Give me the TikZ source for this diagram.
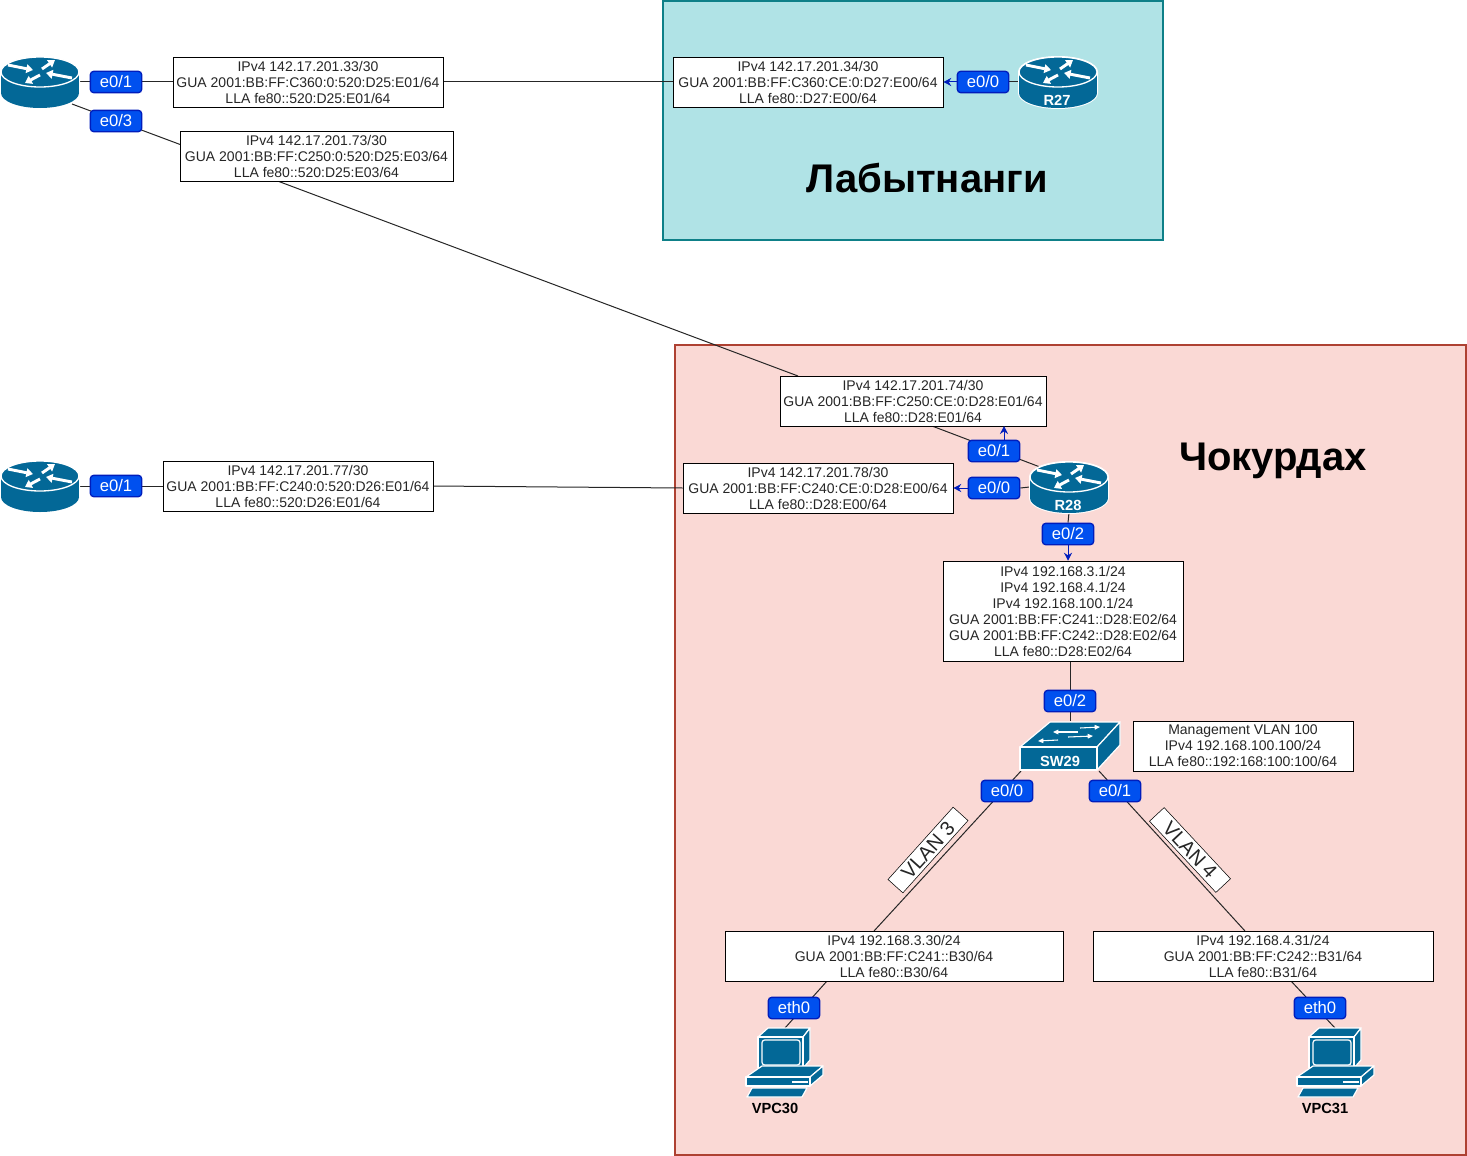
\documentclass[tikz,border=0pt]{standalone}
\usepackage{fontspec}
\setmainfont{Liberation Sans}
\usetikzlibrary{arrows.meta,backgrounds}

\definecolor{ciscoblue}{HTML}{036897}
\definecolor{portfill}{HTML}{0050EF}
\definecolor{portline}{HTML}{001DBC}
\definecolor{tealfill}{HTML}{B0E3E6}
\definecolor{tealline}{HTML}{0E8088}
\definecolor{redfill}{HTML}{FAD9D5}
\definecolor{redline}{HTML}{AE4132}

\tikzset{
  router/.pic={
    \path[draw=white, line width=1.5pt] (0,11) ellipse [x radius=39, y radius=15]
      (-39,-10) -- (-39,11) (39,-10) -- (39,11) (0,-10) ellipse [x radius=39, y radius=15];
    \fill[ciscoblue] (0,11) ellipse [x radius=39, y radius=15];
    \fill[ciscoblue] (-39,-10) rectangle (39,11);
    \path[fill=ciscoblue, draw=white, line width=1pt] (0,-10) ellipse [x radius=39, y radius=15];
    \foreach \xa/\ya/\xb/\yb in {-32/-17/-7/-12, 2/-13/15/-22, 0/-7/-15/1, 32/-4/6/-9}
      \draw[white, line width=2.2pt, -{Triangle[width=6.5pt,length=5pt]}] (\xa,\ya) -- (\xb,\yb);
  },
  switchbox/.pic={
    \path[fill=ciscoblue, draw=white, line width=0.9pt, line join=round] (-50,0) -- (-20,-25) -- (50,-25) -- (27,0) -- cycle;
    \path[fill=ciscoblue, draw=white, line width=0.9pt, line join=round] (27,0) -- (50,-25) -- (50,-2) -- (27,23) -- cycle;
    \path[fill=ciscoblue, draw=white, line width=0.9pt, line join=round] (-50,0) rectangle (27,23);
    \foreach \xa/\ya/\xb/\yb in {10/-19/30/-20, 8/-15/-17/-15, -2/-10/23/-11, -12/-7/-32/-6}
      \draw[white, line width=0.8pt, -{Triangle[width=3.5pt,length=4pt]}] (\xa,\ya) -- (\xb,\yb);
  },
  vpc/.pic={
    \begin{scope}[fill=ciscoblue, draw=white, line width=0.9pt, line join=round]
      \path[fill, draw] (-16,-35) -- (26,-35) -- (19,-26) -- (-26,-26) -- cycle;
      \path[fill, draw] (19,-26) -- (26,-35) -- (26,-3) -- (19,5) -- cycle;
      \path[fill, draw] (-26,-26) rectangle (19,5);
      \path[fill, draw, rounded corners=2pt] (-22,-23) rectangle (16,2);
      \path[fill, draw] (-22,3) -- (39,3) -- (26,14) -- (-38,14) -- cycle;
      \path[fill, draw] (26,14) -- (39,3) -- (39,12) -- (26,23) -- cycle;
      \path[fill, draw] (-38,14) rectangle (26,23);
      \path[fill, draw] (-32,25) -- (23,25) -- (18,34) -- (-37,34) -- cycle;
    \end{scope}
    \draw[white, line width=1pt] (8,19) -- (24,19);
  }
}

\begin{document}
\begin{tikzpicture}[
  x=0.75pt, y=-0.75pt,
  ipbox/.style={draw, fill=white, inner sep=0pt, align=center, minimum width=#1*0.75pt,
    minimum height=37.5pt, text=black!85, font=\fontsize{10.5}{12}\selectfont},
  port/.style={draw=portline, fill=portfill, text=white, rounded corners=2.5pt, line width=1pt,
    inner sep=0pt, minimum width=38.5pt, minimum height=16pt, font=\fontsize{12.5}{12.5}\selectfont},
  icon/.style={inner sep=0pt, minimum width=58.5pt, minimum height=38pt},
  hostname/.style={font=\fontsize{11}{11}\selectfont\bfseries, text=white, inner sep=0pt},
  pcname/.style={font=\fontsize{11}{11}\selectfont\bfseries, inner sep=0pt},
  vlan/.style={draw, fill=white, inner sep=0pt, minimum width=73pt, minimum height=15pt,
    text=black!85, font=\fontsize{15}{15}\selectfont},
  zone/.style={line width=1.5pt},
  title/.style={font=\fontsize{30}{30}\selectfont\bfseries, inner sep=0pt},
  link/.style={line width=0.75pt, draw=black!85},
  tolink/.style={line width=0.75pt, draw=portline, -{Stealth[length=6pt,width=6pt]}}
]
  \useasboundingbox (0,0) rectangle (1467,1156);

  % address boxes
  \node[ipbox=270] (ip33) at (308,82) {IPv4 142.17.201.33/30\\GUA 2001:BB:FF:C360:0:520:D25:E01/64\\LLA fe80::520:D25:E01/64};
  \node[ipbox=270] (ip34) at (808,82) {IPv4 142.17.201.34/30\\GUA 2001:BB:FF:C360:CE:0:D27:E00/64\\LLA fe80::D27:E00/64};
  \node[ipbox=273] (ip73) at (316.5,156) {IPv4 142.17.201.73/30\\GUA 2001:BB:FF:C250:0:520:D25:E03/64\\LLA fe80::520:D25:E03/64};
  \node[ipbox=266] (ip74) at (913,401) {IPv4 142.17.201.74/30\\GUA 2001:BB:FF:C250:CE:0:D28:E01/64\\LLA fe80::D28:E01/64};
  \node[ipbox=270] (ip77) at (298,486) {IPv4 142.17.201.77/30\\GUA 2001:BB:FF:C240:0:520:D26:E01/64\\LLA fe80::520:D26:E01/64};
  \node[ipbox=270] (ip78) at (818,488) {IPv4 142.17.201.78/30\\GUA 2001:BB:FF:C240:CE:0:D28:E00/64\\LLA fe80::D28:E00/64};
  \node[ipbox=240, minimum height=75pt] (ip192) at (1063,611) {IPv4 192.168.3.1/24\\IPv4 192.168.4.1/24\\IPv4 192.168.100.1/24\\GUA 2001:BB:FF:C241::D28:E02/64\\GUA 2001:BB:FF:C242::D28:E02/64\\LLA fe80::D28:E02/64};
  \node[ipbox=220] (mgmt) at (1243,746) {Management VLAN 100\\IPv4 192.168.100.100/24\\LLA fe80::192:168:100:100/64};
  \node[ipbox=338] (ip30) at (894,956) {IPv4 192.168.3.30/24\\GUA 2001:BB:FF:C241::B30/64\\LLA fe80::B30/64};
  \node[ipbox=340] (ip31) at (1263,956) {IPv4 192.168.4.31/24\\GUA 2001:BB:FF:C242::B31/64\\LLA fe80::B31/64};

  % devices
  \node[icon] (ra) at (40,82) {};
  \node[icon] (rb) at (40,486) {};
  \node[icon] (r27) at (1058,82) {};
  \node[icon] (r28) at (1069,487) {};
  \node[icon, minimum width=75pt] (sw29) at (1070,747) {};
  \node[icon, minimum height=52pt] (pc30) at (784,1063) {};
  \node[icon, minimum height=52pt] (pc31) at (1335,1063) {};
  \pic at (ra) {router};
  \pic at (rb) {router};
  \pic at (r27) {router};
  \pic at (r28) {router};
  \pic at (sw29) {switchbox};
  \pic at (pc30) {vpc};
  \pic at (pc31) {vpc};
  \node[hostname] (n27) at (1057,100) {R27};
  \node[hostname] (n28) at (1068,505) {R28};
  \node[hostname] (n29) at (1060,761) {SW29};
  \node[pcname] (n30) at (775,1108) {VPC30};
  \node[pcname] (n31) at (1325,1108) {VPC31};

  % interfaces
  \node[port] (pa1) at (116,82) {e0/1};
  \node[port] (pa3) at (116,121) {e0/3};
  \node[port] (pb1) at (116,486) {e0/1};
  \node[port] (p27) at (983,82) {e0/0};
  \node[port] (p281) at (994,451) {e0/1};
  \node[port] (p280) at (994,488) {e0/0};
  \node[port] (p282) at (1068,534) {e0/2};
  \node[port] (p292) at (1070,701) {e0/2};
  \node[port] (p290) at (1007,791) {e0/0};
  \node[port] (p291) at (1115,791) {e0/1};
  \node[port] (p30) at (794,1008) {eth0};
  \node[port] (p31) at (1320,1008) {eth0};

  \node[vlan, rotate=48] (v3) at (928,850) {VLAN 3};
  \node[vlan, rotate=-47] (v4) at (1190,850) {VLAN 4};

  % loose ends of the slanted links
  \coordinate (ca) at (72,104);
  \coordinate (c74) at (798,376);
  \coordinate (c74b) at (932,426);
  \coordinate (c28) at (1040,467);
  \coordinate (c281) at (1004,441);
  \coordinate (c281b) at (1004,426);
  \coordinate (c192) at (1070,661);
  \coordinate (s0) at (1021,771);
  \coordinate (s1) at (1099,771);
  \coordinate (c30) at (874,931);
  \coordinate (c31) at (1245,931);
  \coordinate (c30b) at (827,981);
  \coordinate (c31b) at (1291,981);
  \coordinate (c30c) at (785,1028);
  \coordinate (c31c) at (1335,1028);

  \begin{scope}[on background layer]
    \draw[zone, fill=tealfill, draw=tealline] (663,1) rectangle (1163,240);
    \draw[zone, fill=redfill, draw=redline] (675,345) rectangle (1466,1155);
    \draw[link] (ra.east) -- (ip33.west);
    \draw[link] (ip33.east) -- (ip34.west);
    \draw[link] (ca) -- (c74);
    \draw[link] (c74b) -- (c28);
    \draw[link] (rb.east) -- (ip77.west);
    \draw[link] (ip77.east) -- (ip78.west);
    \draw[link] (p27.east) -- (r27.west);
    \draw[link] (p280.east) -- (r28.west);
    \draw[link] (r28.south) -- (p282.north);
    \draw[link] (c192) -- (sw29.north -| c192);
    \draw[link] (s0) -- (c30);
    \draw[link] (s1) -- (c31);
    \draw[link] (c30b) -- (c30c);
    \draw[link] (c31b) -- (c31c);
  \end{scope}
  \draw[tolink] (p27.west) -- (ip34.east);
  \draw[tolink] (c281) -- (c281b);
  \draw[tolink] (p280.west) -- (ip78.east);
  \draw[tolink] (p282.south) -- (p282.south |- ip192.north);

  \node[title] (t1) at (927,178) {Лабытнанги};
  \node[title] (t2) at (1273,461) {Чокурдах};
\end{tikzpicture}
\end{document}
